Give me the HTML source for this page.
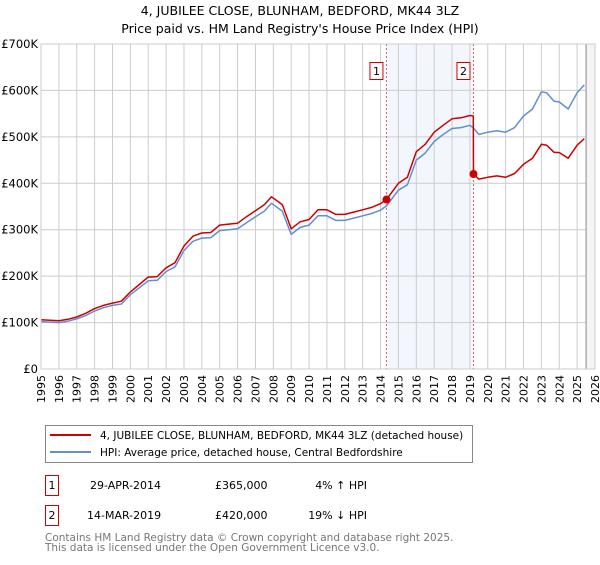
<!DOCTYPE html>
<html><head><meta charset="utf-8"><style>
body{margin:0;width:600px;height:560px;background:#fff;font-family:"Liberation Sans","DejaVu Sans",sans-serif;overflow:hidden}
svg text{font-family:"DejaVu Sans","Liberation Sans",sans-serif}
</style></head><body>
<svg id="chart" width="600" height="560" xmlns="http://www.w3.org/2000/svg">
<text x="300" y="15" text-anchor="middle" font-size="12.5">4, JUBILEE CLOSE, BLUNHAM, BEDFORD, MK44 3LZ</text>
<text x="300" y="33" text-anchor="middle" font-size="12.5">Price paid vs. HM Land Registry's House Price Index (HPI)</text>
<g id="plot"></g>
<g>
<rect x="45.5" y="425.5" width="427" height="37" fill="#fff" stroke="#888"/>
<line x1="50" y1="435" x2="91" y2="435" stroke="#cc0000" stroke-width="2"/>
<text x="100" y="439" font-size="10.5">4, JUBILEE CLOSE, BLUNHAM, BEDFORD, MK44 3LZ (detached house)</text>
<line x1="50" y1="452" x2="91" y2="452" stroke="#6090d0" stroke-width="2"/>
<text x="100" y="456" font-size="10.5">HPI: Average price, detached house, Central Bedfordshire</text>
</g>
<g font-size="11">
<rect x="45.5" y="475.5" width="13" height="20" fill="#fff" stroke="#cc0000"/>
<text x="52" y="489" text-anchor="middle">1</text>
<text x="90" y="489">29-APR-2014</text><text x="215" y="489">£365,000</text><text x="367" y="489" text-anchor="end">4% ↑ HPI</text>
<rect x="45.5" y="505.5" width="13" height="20" fill="#fff" stroke="#cc0000"/>
<text x="52" y="519" text-anchor="middle">2</text>
<text x="87" y="519">14-MAR-2019</text><text x="215" y="519">£420,000</text><text x="367" y="519" text-anchor="end">19% ↓ HPI</text>
</g>
<text x="45" y="541" font-size="10.5" fill="#777">Contains HM Land Registry data © Crown copyright and database right 2025.</text>
<text x="45" y="551" font-size="10.5" fill="#777">This data is licensed under the Open Government Licence v3.0.</text>
</svg>
<script>
const hpiYears=[1995,1996,1996.5,1997,1997.5,1998,1998.5,1999,1999.5,2000,2000.5,2001,2001.5,2002,2002.5,2003,2003.5,2004,2004.5,2005,2005.5,2006,2006.5,2007,2007.5,2007.9,2008.5,2009,2009.5,2010,2010.5,2011,2011.5,2012,2012.5,2013,2013.5,2014,2014.33,2014.5,2015,2015.5,2016,2016.5,2017,2017.5,2018,2018.5,2019,2019.2,2019.5,2020,2020.5,2021,2021.5,2022,2022.5,2023,2023.3,2023.7,2024,2024.5,2025,2025.4];
const hpiValues=[102,100,103,108,115,125,132,137,140,160,175,190,191,210,220,255,275,282,283,298,300,302,315,328,340,357,340,290,305,310,330,330,320,320,325,330,335,342,351,360,385,397,450,465,490,505,518,520,525,519,505,510,513,510,520,545,560,597,595,577,575,560,595,612];
const priceYears=[1995,1996,1996.5,1997,1997.5,1998,1998.5,1999,1999.5,2000,2000.5,2001,2001.5,2002,2002.5,2003,2003.5,2004,2004.5,2005,2005.5,2006,2006.5,2007,2007.5,2007.9,2008.5,2009,2009.5,2010,2010.5,2011,2011.5,2012,2012.5,2013,2013.5,2014,2014.33,2014.5,2015,2015.5,2016,2016.5,2017,2017.5,2018,2018.5,2019,2019.19,2019.2,2019.5,2020,2020.5,2021,2021.5,2022,2022.5,2023,2023.3,2023.7,2024,2024.5,2025,2025.4];
const priceValues=[106,104,107,112,120,130,137,142,146,166,182,198,199,218,229,265,286,293,294,310,312,314,328,341,354,371,354,302,317,322,343,343,333,333,338,343,348,356,365,374,400,413,468,484,510,525,539,541,546,545,420,409,413,416,413,421,441,454,484,482,467,466,454,482,496];
const saleYears=[2014.33,2019.2];
const salePrices=[365,420];
const saleLabels=["1","2"];
const yTicks=[0,100,200,300,400,500,600,700];
const yTickLabels=["£0","£100K","£200K","£300K","£400K","£500K","£600K","£700K"];
const xTicks=[1995,1996,1997,1998,1999,2000,2001,2002,2003,2004,2005,2006,2007,2008,2009,2010,2011,2012,2013,2014,2015,2016,2017,2018,2019,2020,2021,2022,2023,2024,2025,2026];

const X0=41,X1=595,Y0=369,Y1=44;
const xs=y=>X0+(y-1995)/(2026-1995)*(X1-X0);
const ys=v=>Y0-v/700*(Y0-Y1);
const NS="http://www.w3.org/2000/svg";
const g=document.getElementById('plot');
function mk(t,a){const e=document.createElementNS(NS,t);for(const k in a)e.setAttribute(k,a[k]);g.appendChild(e);return e;}
let e;
e=mk('rect',{x:X0,y:Y1,width:X1-X0,height:Y0-Y1,fill:'#fff'});


e=mk('rect',{x:xs(saleYears[0]),y:Y1,width:xs(saleYears[1])-xs(saleYears[0]),height:Y0-Y1,fill:'#eef3fc',opacity:0.7});


xTicks.forEach(t=>{
 e=mk('line',{x1:xs(t),x2:xs(t),y1:Y1,y2:Y0,stroke:'#cccccc'});
 
 
 e=mk('text',{transform:`translate(${xs(t)+4},${Y0+6}) rotate(-90)`,'text-anchor':'end','font-size':11});
 e.textContent=t;
 
 
});
yTicks.forEach((t,i)=>{
 e=mk('line',{x1:X0,x2:X1,y1:ys(t),y2:ys(t),stroke:'#cccccc'});
 
 
 e=mk('text',{x:X0-3,y:ys(t)+4,'text-anchor':'end','font-size':11.5});
 e.textContent=yTickLabels[i];
 
 
});
const hx=xs(2025.5);
e=mk('rect',{x:hx,y:Y1,width:X1-hx,height:Y0-Y1,fill:'#f5f5f5'});


e=mk('line',{x1:hx,x2:hx,y1:Y1,y2:Y0,stroke:'#888','stroke-width':1});


saleYears.forEach((s,i)=>{
 e=mk('line',{x1:xs(s),x2:xs(s),y1:Y1,y2:Y0,stroke:'#e06060','stroke-dasharray':'2,2'});
 
 
});
function path(xa,va,c,n){
 const d=xa.map((x,i)=>(i?'L':'M')+xs(x).toFixed(1)+','+ys(va[i]).toFixed(1)).join('');
 const p=mk('path',{d:d,fill:'none',stroke:c,'stroke-width':1.5,'stroke-linejoin':'round'});
 
 
}
path(hpiYears,hpiValues,'#6090d0','hpi-line');
path(priceYears,priceValues,'#cc0000','price-line');
saleYears.forEach((s,i)=>{
 e=mk('circle',{cx:xs(s),cy:ys(salePrices[i]),r:4,fill:'#cc0000'});
 
 
 e=mk('rect',{x:xs(s)-16.5,y:62.5,width:13,height:17,fill:'#fff',stroke:'#cc0000'});
 
 
 e=mk('text',{x:xs(s)-10,y:75,'text-anchor':'middle','font-size':11});
 e.textContent=saleLabels[i];
 
 
});
e=mk('rect',{x:X0,y:Y1,width:X1-X0,height:Y0-Y1,fill:'none',stroke:'#cccccc'});


</script>
</body></html>
